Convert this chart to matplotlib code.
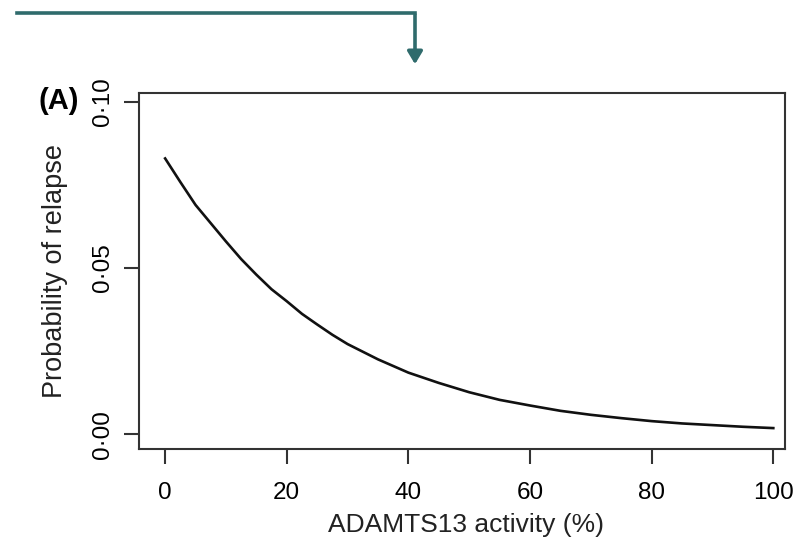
import matplotlib
matplotlib.use("Agg")
import matplotlib.pyplot as plt
from matplotlib.patches import FancyArrowPatch

plt.rcParams['font.family'] = ['Liberation Sans', 'DejaVu Sans']

# values
activity = [0, 2.5, 5, 7.5, 10, 12.5, 15, 17.5, 20, 22.5, 25, 27.5, 30, 35, 40, 45, 50,
            55, 60, 65, 70, 75, 80, 85, 90, 95, 100]
relapse = [0.083, 0.0759, 0.069, 0.0635, 0.058, 0.0527, 0.048, 0.0436, 0.040, 0.0362,
           0.033, 0.0299, 0.0271, 0.0225, 0.0185, 0.0154, 0.0126,
           0.0103, 0.0086, 0.0070, 0.0058, 0.0048, 0.0039, 0.0032, 0.0027, 0.0022, 0.0018]
x_ticks = [0, 20, 40, 60, 80, 100]
y_ticks = [0.00, 0.05, 0.10]
y_tick_labels = ['0\u00b700', '0\u00b705', '0\u00b710']

fig = plt.figure(figsize=(7.96, 5.44), dpi=100)
ax = fig.add_axes([0.1746, 0.1746, 0.8114, 0.6544])

ax.plot(activity, relapse, color='#111111', lw=1.9, solid_joinstyle='round')
ax.set_xlim(-4.3, 101.9)
ax.set_ylim(-0.0045, 0.1027)

ax.set_xticks(x_ticks)
ax.set_yticks(y_ticks)
ax.set_yticklabels(y_tick_labels, rotation=90, va='center')
ax.tick_params(direction='out', length=11, width=1.5, labelsize=17.5, color='#333333')
ax.tick_params(axis='x', pad=13)
ax.tick_params(axis='y', pad=7)
for s in ax.spines.values():
    s.set_linewidth(1.5)
    s.set_color('#333333')

ax.set_xlabel('ADAMTS13 activity (%)', fontsize=19, color='#222222')
ax.xaxis.set_label_coords(0.507, -0.18)
ax.set_ylabel('Probability of relapse', fontsize=19.5, color='#222222')
ax.yaxis.set_label_coords(-0.11, 0.5)

fig.text(39 / 796, 1 - 101 / 544, '(A)', fontsize=21, fontweight='bold',
         ha='left', va='center')

# teal annotation arrow at the top
teal = '#2f6b6c'
fig.add_artist(plt.Line2D([17 / 796, 415 / 796], [1 - 13 / 544, 1 - 13 / 544],
                          color=teal, lw=2.6, transform=fig.transFigure))
arr = FancyArrowPatch((415 / 796, 1 - 12 / 544), (415 / 796, 1 - 67 / 544),
                      transform=fig.transFigure, arrowstyle='-|>,head_length=5,head_width=3',
                      color=teal, lw=2.6, mutation_scale=1.5)
fig.add_artist(arr)

fig.savefig('out.png', dpi=100)
